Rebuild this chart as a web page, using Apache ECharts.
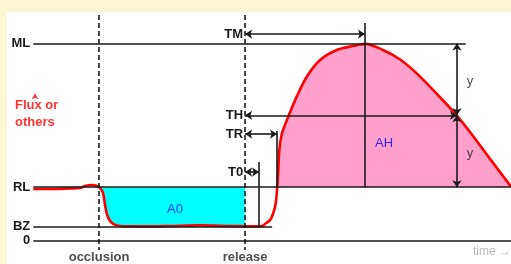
<!DOCTYPE html>
<html>
<head>
<meta charset="utf-8">
<script src="https://cdn.jsdelivr.net/npm/echarts@6/dist/echarts.min.js"></script>
<style>
html, body { margin: 0; padding: 0; background: #fdf6d3; }
#chart { width: 511px; height: 264px; }
</style>
</head>
<body>
<div id="chart"></div>
<script>
// time: occlusion = 0, release = 100 ; flux: zero = 0, ML = 100
var curveTime = [-45, -33.5, -20, -13, -9.6, -4.8, -1.4, 0.7, 2.7, 4.1, 5.5, 7.5, 10.3, 14.4, 28, 48.6, 69, 89.7, 106.8, 111.6,
  113.6, 117.1, 119.3, 121.0, 121.8, 122.7, 123.4, 125.1, 127.3, 129.7, 135.3, 142.2, 151.3, 162.7, 173.9, 182,
  194.4, 206.1, 217.5, 231.2, 244.4, 256, 267.6, 282];
var curveFlux = [26.1, 26.1, 26.4, 26.6, 27.6, 28.1, 27.6, 26.6, 24.1, 18, 12.9, 9.9, 8.1, 7.3, 7.1, 7.3, 7.6, 7.3, 7.1, 7.3,
  8.3, 10.3, 13.9, 19.0, 25.6, 35.8, 45.9, 54.0, 58.6, 63.2, 73, 83.1, 91.6, 96.7, 98.7, 99.8,
  96.7, 91.9, 84.8, 74.4, 63.9, 53.0, 41.4, 27.3];

var levelNames = ['ML', 'RL', 'BZ', '0'];
var levelValues = [100, 27, 7, 0];
var levelEnds = [251, 282, 118.5, 282];
var levelStart = -45;

var eventNames = ['occlusion', 'release'];
var eventTimes = [0, 100];

var timeNames = ['TM', 'TH', 'TR', 'T0'];
var timeEnds = [182, 245, 121.8, 109.5];
var timeRows = [104.8, 63.5, 54, 34.7];
var halfLevel = 63.5;

var RL = levelValues[1], BZ = levelValues[2], ML = levelValues[0];

function interp(t) {
  for (var i = 1; i < curveTime.length; i++) {
    if (curveTime[i] >= t) {
      var k = (t - curveTime[i - 1]) / (curveTime[i] - curveTime[i - 1]);
      return curveFlux[i - 1] + k * (curveFlux[i] - curveFlux[i - 1]);
    }
  }
  return curveFlux[curveFlux.length - 1];
}

// cyan area (A0): between RL and curve, occlusion -> release
var cyanPts = [[eventTimes[0], RL]];
for (var i = 0; i < curveTime.length; i++) {
  if (curveTime[i] > eventTimes[0] && curveTime[i] < eventTimes[1]) cyanPts.push([curveTime[i], curveFlux[i]]);
}
cyanPts.push([eventTimes[1], interp(eventTimes[1])], [eventTimes[1], RL]);

// pink area (AH): curve above RL after release
var pinkPts = [];
for (var j = 1; j < curveTime.length; j++) {
  if (curveTime[j] <= eventTimes[1]) continue;
  if (curveFlux[j - 1] < RL && curveFlux[j] >= RL) {
    var k = (RL - curveFlux[j - 1]) / (curveFlux[j] - curveFlux[j - 1]);
    pinkPts.push([curveTime[j - 1] + k * (curveTime[j] - curveTime[j - 1]), RL]);
  }
  if (curveFlux[j] >= RL && pinkPts.length) pinkPts.push([curveTime[j], curveFlux[j]]);
}
pinkPts.push([curveTime[curveTime.length - 1], RL]);

function areaSeries(points, color) {
  return {
    type: 'custom',
    coordinateSystem: 'cartesian2d',
    silent: true,
    z: 1,
    data: [points[0]],
    renderItem: function (params, api) {
      return {
        type: 'polygon',
        shape: { points: points.map(function (p) { return api.coord(p); }) },
        style: { fill: color }
      };
    }
  };
}

var FONT = 'Liberation Sans, Arial, sans-serif';
var ink = '#1a1a1a';
var lines = [];

// horizontal levels
levelNames.forEach(function (n, i) {
  lines.push([
    { coord: [levelStart, levelValues[i]], label: { show: true, position: 'start', formatter: n, distance: 3,
      fontWeight: 'bold', fontSize: 13, color: ink, fontFamily: FONT } },
    { coord: [levelEnds[i], levelValues[i]] }
  ]);
});

// dashed event lines
eventNames.forEach(function (n, i) {
  lines.push([
    { coord: [eventTimes[i], 114.5], lineStyle: { type: [5, 3], width: 1.6, color: ink } },
    { coord: [eventTimes[i], -4.9] }
  ]);
});

// time arrows from release
timeNames.forEach(function (n, i) {
  lines.push([
    { coord: [eventTimes[1], timeRows[i]], symbol: 'arrow', symbolSize: 7,
      label: { show: true, position: 'start', formatter: n, distance: 2,
        fontWeight: 'bold', fontSize: 13, color: ink, fontFamily: FONT } },
    { coord: [timeEnds[i], timeRows[i]], symbol: 'arrow', symbolSize: 7 }
  ]);
});

// vertical markers
lines.push([{ coord: [timeEnds[0], RL] }, { coord: [timeEnds[0], 110.4] }]);
lines.push([{ coord: [timeEnds[2], RL] }, { coord: [timeEnds[2], 55.6] }]);
lines.push([{ coord: [timeEnds[3], BZ] }, { coord: [timeEnds[3], 39.8] }]);

// y arrows
lines.push([{ coord: [timeEnds[1], ML], symbol: 'arrow', symbolSize: 7 }, { coord: [timeEnds[1], halfLevel], symbol: 'arrow', symbolSize: 7 }]);
lines.push([{ coord: [timeEnds[1], halfLevel], symbol: 'arrow', symbolSize: 7 }, { coord: [timeEnds[1], RL], symbol: 'arrow', symbolSize: 7 }]);

function txt(x, y, s, opt) {
  return {
    value: [x, y],
    label: Object.assign({ show: true, formatter: s, position: 'inside', fontFamily: FONT, fontSize: 12, color: ink }, opt)
  };
}

var texts = [
  txt(-57.5, 68.3, 'Flux or', { align: 'left', color: '#ff0000', fontWeight: 'bold', fontSize: 13 }),
  txt(-57.5, 59.9, 'others', { align: 'left', color: '#ff0000', fontWeight: 'bold', fontSize: 13 }),
  txt(195.1, 49.0, 'AH', { color: '#0000ff', fontSize: 13 }),
  txt(52.0, 15.9, 'A0', { color: '#0000ff', fontSize: 13 }),
  txt(254, 80.6, 'y', { fontSize: 13 }),
  txt(254, 44.2, 'y', { fontSize: 13 }),
  txt(282, -5.6, 'time \u2192', { align: 'right', color: '#a8a8a8' }),
  txt(eventTimes[0], -8.6, eventNames[0], { fontWeight: 'bold', fontSize: 13, color: '#222' }),
  txt(eventTimes[1], -8.6, eventNames[1], { fontWeight: 'bold', fontSize: 13, color: '#222' })
];

var chart = echarts.init(document.getElementById('chart'));
chart.setOption({
  animation: false,
  grid: { left: 7, right: 0, top: 12, bottom: 0, show: true, backgroundColor: '#ffffff', borderWidth: 0 },
  xAxis: { type: 'value', min: -63, max: 282, show: false },
  yAxis: { type: 'value', min: -12, max: 116, show: false },
  series: [
    areaSeries(cyanPts, '#00ffff'),
    areaSeries(pinkPts, '#ffa0cc'),
    {
      type: 'line',
      z: 3,
      data: curveTime.map(function (t, i) { return [t, curveFlux[i]]; }),
      showSymbol: false,
      smooth: 0.3,
      lineStyle: { color: '#ff0000', width: 2.6 }
    },
    {
      type: 'line',
      z: 5,
      data: [],
      markLine: {
        silent: true,
        symbol: ['none', 'none'],
        label: { show: false },
        lineStyle: { type: 'solid', color: ink, width: 1.6 },
        data: lines
      }
    },
    {
      type: 'scatter',
      z: 6,
      symbolSize: 1,
      itemStyle: { color: 'rgba(0,0,0,0)' },
      data: texts
    },
    {
      type: 'scatter',
      z: 6,
      symbol: 'arrow',
      symbolSize: [5, 6],
      itemStyle: { color: '#ff0000' },
      data: [[-43.8, 74.7]]
    }
  ]
});
</script>
</body>
</html>
